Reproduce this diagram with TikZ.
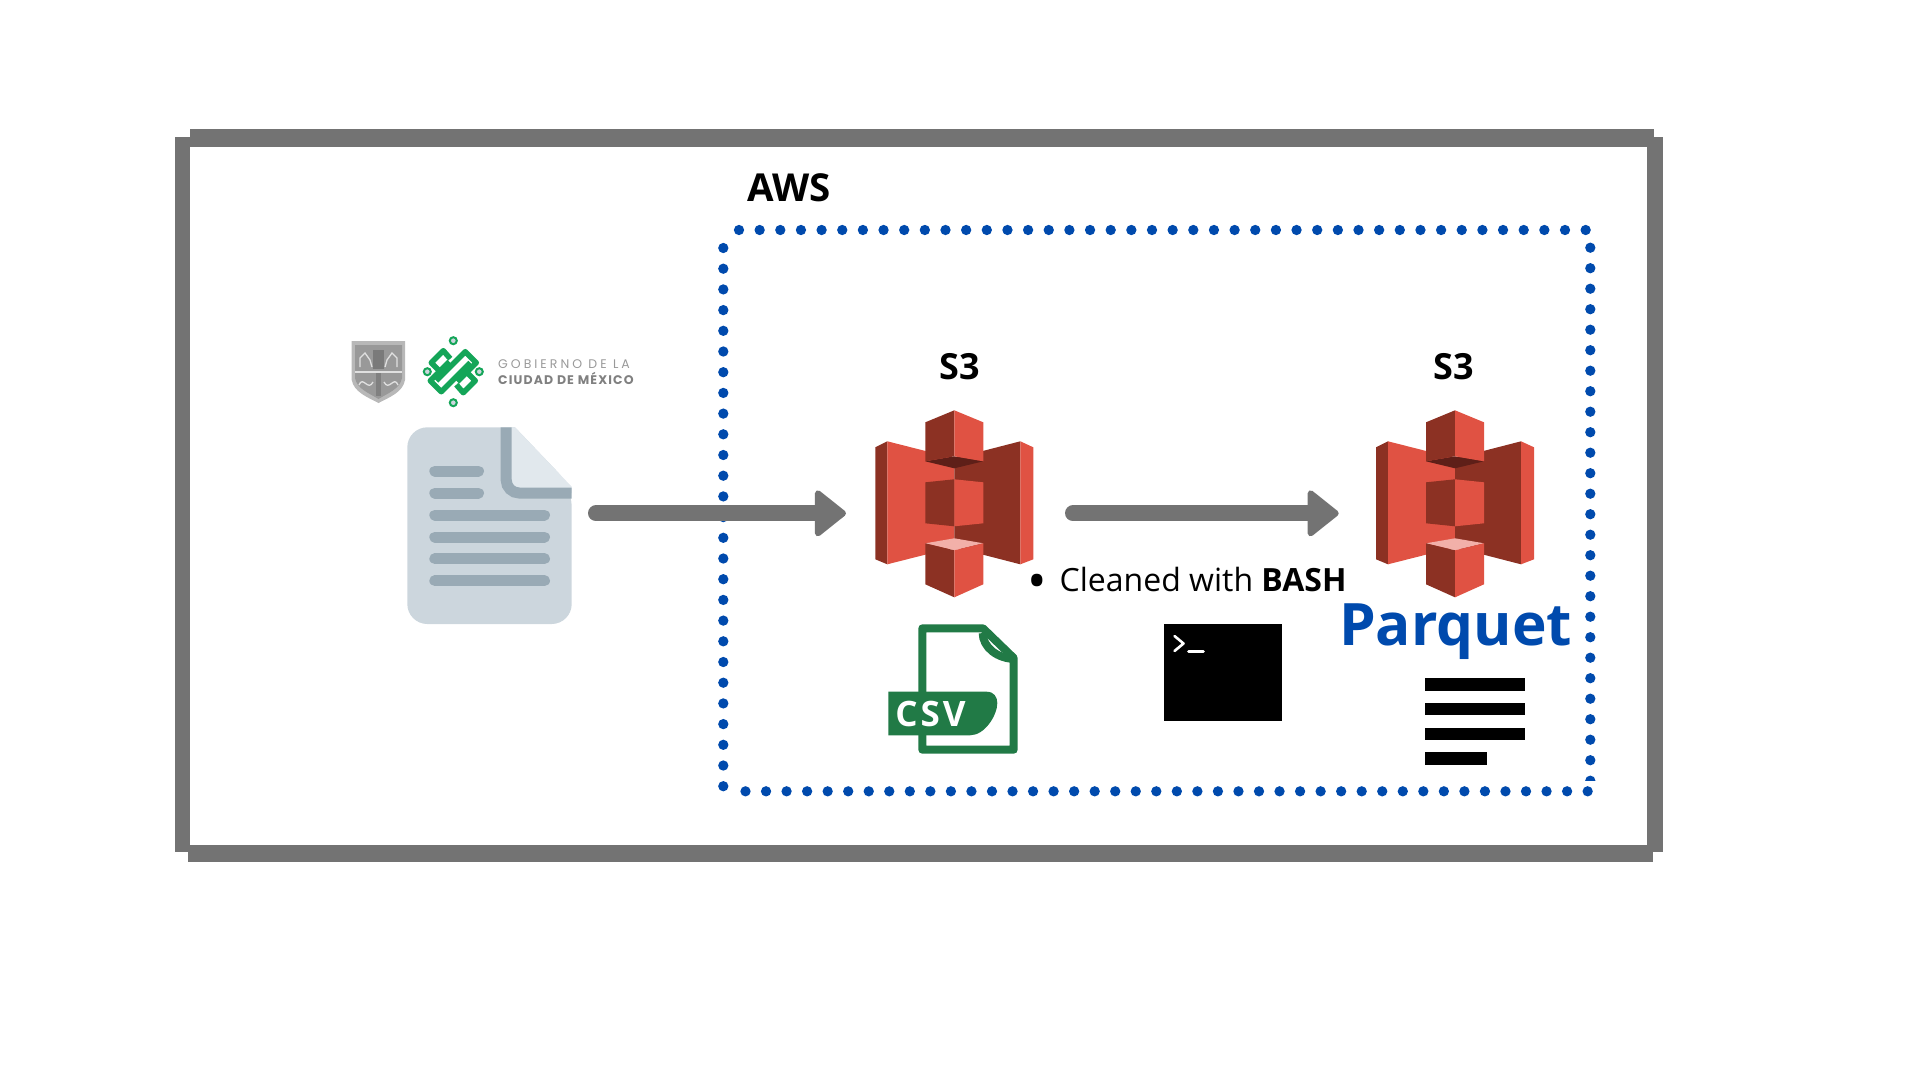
\documentclass[tikz,border=0pt]{standalone}
\usepackage{fontspec}
\setmainfont{Open Sans}
\newfontfamily\logofont{Poppins}
\newfontfamily\logotopfont[LetterSpace=24]{Poppins}
\newfontfamily\logocityfont[LetterSpace=9]{Poppins}
\usetikzlibrary{arrows.meta}
\definecolor{framegray}{HTML}{737373}
\definecolor{awsblue}{HTML}{004AAD}
\definecolor{s3red}{HTML}{E05243}
\definecolor{s3dark}{HTML}{8C3123}
\definecolor{s3shade}{HTML}{5E1F18}
\definecolor{s3light}{HTML}{F2B0A9}
\definecolor{csvgreen}{HTML}{217A46}
\definecolor{docbody}{HTML}{CCD6DD}
\definecolor{docfold}{HTML}{E1E8ED}
\definecolor{docline}{HTML}{99AAB5}
\definecolor{logogreen}{HTML}{14A558}
\tikzset{
  framebar/.style={fill=framegray},
  awsdots/.style={draw=awsblue, line width=10.3pt, line cap=round, dash pattern=on 0pt off #1},
  flowarrow/.style={draw=framegray, line width=16pt, line cap=round,
    -{Triangle[length=33pt, width=51pt, line width=6pt, round, fill=framegray]}},
  iconspot/.style={inner sep=0pt, outer sep=0pt},
  doctext/.style={line width=11pt, line cap=round, draw=docline},
  knotline/.style={line width=5.5pt, line join=round, draw=logogreen},
  knotring/.style={line width=2pt, draw=logogreen, fill=docbody},
  crestline/.style={draw=black!12, line width=1.3pt},
  s3bucket/.pic={
    \fill[s3dark] (-79,-56) -- (-67,-62) -- (-67,61) -- (-79,56) -- cycle;
    \fill[s3red] (-67,-62) -- (0,-45) -- (0,44) -- (-67,61) -- cycle;
    \fill[s3dark] (66,-62) -- (0,-45) -- (0,44) -- (66,61) -- cycle;
    \fill[s3red] (66,-62) -- (79,-56) -- (79,56) -- (66,61) -- cycle;
    \fill[s3shade] (-29,-42) -- (0,-47) -- (29,-42) -- (0,-35) -- cycle;
    \fill[s3dark] (0,-93) -- (-29,-81) -- (-29,-42) -- (0,-47) -- cycle;
    \fill[s3red] (0,-93) -- (29,-81) -- (29,-42) -- (0,-47) -- cycle;
    \fill[s3dark] (-29,-21) -- (0,-24) -- (0,23) -- (-29,20) -- cycle;
    \fill[s3red] (29,-21) -- (0,-24) -- (0,23) -- (29,20) -- cycle;
    \fill[s3light] (-29,40) -- (0,35) -- (29,40) -- (0,47) -- cycle;
    \fill[s3dark] (-29,40) -- (0,47) -- (0,94) -- (-29,81) -- cycle;
    \fill[s3red] (29,40) -- (0,47) -- (0,94) -- (29,81) -- cycle;
  }
}
\begin{document}
\begin{tikzpicture}[x=1pt, y=-1pt]
    \useasboundingbox (0,0) rectangle (1920,1080);
    \coordinate (flowy) at (0,513.3);
    \fill[framebar] (190,129.3) rectangle (1654,146.7);
    \fill[framebar] (174.5,137.3) rectangle (189.8,852.3);
    \fill[framebar] (1646.7,137.3) rectangle (1663.3,852.3);
    \fill[framebar] (187.6,845) rectangle (1652.7,862.3);
    \draw[awsdots=20.65pt] (739,230) -- (1597,230);
    \draw[awsdots=20.7pt] (723.3,248) -- (723.3,795);
    \draw[awsdots=20.54pt] (745.5,791.3) -- (1595,791.3);
    \begin{scope}
      \clip (1580,240) rectangle (1600,780);
      \draw[awsdots=20.5pt] (1590.3,247.7) -- (1590.3,790);
    \end{scope}
    \node[anchor=base west, inner sep=0pt, font=\fontsize{38.5}{40}\selectfont\bfseries] (awstitle) at (747,201) {AWS};
    \node[anchor=base, inner sep=0pt, font=\fontsize{36}{40}\selectfont\bfseries] (s3rawtitle) at (959.5,379) {S3};
    \node[anchor=base, inner sep=0pt, font=\fontsize{36}{40}\selectfont\bfseries] (s3cleantitle) at (1453.5,379) {S3};
    \node[iconspot, minimum width=164.4pt, minimum height=197pt] (rawdoc) at (489.5,525.6) {};
    \node[iconspot, minimum width=158pt, minimum height=187pt] (s3raw) at (954.3,503.3) {};
    \node[iconspot, minimum width=158pt, minimum height=187pt] (s3clean) at (1455,503.3) {};
    \fill[docbody, rounded corners=20pt] (515,427.3) -| (407.3,624) -| (571.7,486.7) [sharp corners] -- cycle;
    \fill[docfold] (506,427.3) -- (515,427.3) -- (571.7,486.7) -- (571.7,493) -- (506,493) -- cycle;
    \draw[draw=docline, line width=11pt, rounded corners=13pt] (506.2,427.3) |- (571.7,493);
    \draw[doctext] (434.8,471) -- (478.5,471);
    \draw[doctext] (434.8,493) -- (478.5,493);
    \draw[doctext] (434.8,515) -- (544.5,515);
    \draw[doctext] (434.8,537) -- (544.5,537);
    \draw[doctext] (434.8,558.7) -- (544.5,558.7);
    \draw[doctext] (434.8,580.7) -- (544.5,580.7);
    \fill[fill=black!28] (351.7,341) -- (405,341) -- (405,380) .. controls (403,392) and (390,397) .. (378.5,403) .. controls (367,397) and (354,392) .. (351.7,380) -- cycle;
    \fill[fill=black!40] (355,345) -- (402,345) -- (402,378) .. controls (400,389) and (388,393) .. (378.5,399) .. controls (369,393) and (357,389) .. (355,378) -- cycle;
    \draw[crestline] (355,372) -- (402,372);
    \draw[crestline] (359,385) .. controls (363,375) and (368,392) .. (373,382);
    \draw[crestline] (384,382) .. controls (389,392) and (394,375) .. (398,385);
    \draw[crestline] (360,367) -- (360,358) -- (365,353) -- (370,360) -- (372,367);
    \draw[crestline] (397,367) -- (397,358) -- (392,353) -- (387,360) -- (385,367);
    \fill[fill=black!52] (373,350) rectangle (384,369);
    \fill[fill=black!50] (376,373) rectangle (381,396);
    \begin{scope}[shift={(453.3,371.7)}]
      \draw[knotline] (-17,9) -- (12,-20) -- (23,-9) -- (4,10);
      \draw[knotline] (17,-9) -- (-12,20) -- (-23,9) -- (-4,-10);
      \draw[knotline] (-3,-13) -- (-10,-21) -- (-22,-9) -- (-10,3);
      \draw[knotline] (3,13) -- (10,21) -- (22,9) -- (10,-3);
      \draw[knotring] (0,-31) circle (3.5);
      \draw[knotring] (0,31) circle (3.5);
      \draw[knotring] (-26,0) circle (3.5);
      \draw[knotring] (26,0) circle (3.5);
    \end{scope}
    \node[anchor=base west, inner sep=0pt, text=black!40, font=\logotopfont\fontsize{12.5}{13}\selectfont] (logoline) at (498,368) {GOBIERNO DE LA};
    \node[anchor=base west, inner sep=0pt, text=black!50, font=\logocityfont\fontsize{12.5}{13}\selectfont\bfseries] (logocity) at (498,384) {CIUDAD DE MÉXICO};
    \pic at (s3raw) {s3bucket};
    \pic at (s3clean) {s3bucket};
    \draw[flowarrow, shorten <=24.3pt, shorten >=29.3pt] (rawdoc.east |- flowy) -- (s3raw.west |- flowy);
    \draw[flowarrow, shorten <=39.7pt, shorten >=37.3pt] (s3raw.east |- flowy) -- (s3clean.west |- flowy);
    \draw[draw=csvgreen, fill=white, line width=8pt, line join=round] (922.3,628.3) -- (983,628.3) -- (1013.7,658) -- (1013.7,749.7) -- (922.3,749.7) -- cycle;
    \draw[draw=csvgreen, line width=8pt] (982.7,633) .. controls (982.7,647) and (997,659) .. (1016,659);
    \fill[fill=csvgreen] (888.3,691.7) -- (986.7,691.7) .. controls (994,691.7) and (997.3,697) .. (997.3,703) .. controls (997.3,715) and (985,735.3) .. (970,735.3) -- (888.3,735.3) -- cycle;
    \node[anchor=base, inner sep=0pt, text=white, font=\fontsize{35}{38}\selectfont\bfseries] (csvlabel) at (930.5,726.5) {C\kern3pt S\kern3pt V};
    \node[anchor=base west, inner sep=0pt, font=\fontsize{32}{34}\selectfont] (cleanlabel) at (1037,591) {\makebox[22.5pt][l]{\hspace{-10pt}\raisebox{-8.5pt}{\fontsize{52}{54}\selectfont •}}Cleaned with \textbf{BASH}};
    \node[anchor=base west, inner sep=0pt, text=awsblue, font=\fontsize{58.5}{60}\selectfont\bfseries] (parquetlabel) at (1339,645) {Parquet};
    \fill[fill=black] (1163.6,624.3) rectangle (1281.8,721);
    \draw[draw=white, line width=2.6pt, line cap=round, line join=round] (1174.5,636) -- (1183.5,643.5) -- (1174.5,651);
    \draw[draw=white, line width=2.6pt, line cap=round] (1188.5,651.5) -- (1203.5,651.5);
    \fill[fill=black] (1425.3,678) rectangle (1524.5,690.7);
    \fill[fill=black] (1425.3,703) rectangle (1524.5,715.3);
    \fill[fill=black] (1425.3,727.7) rectangle (1524.5,740);
    \fill[fill=black] (1425.3,752) rectangle (1487.3,764.7);
\end{tikzpicture}
\end{document}
